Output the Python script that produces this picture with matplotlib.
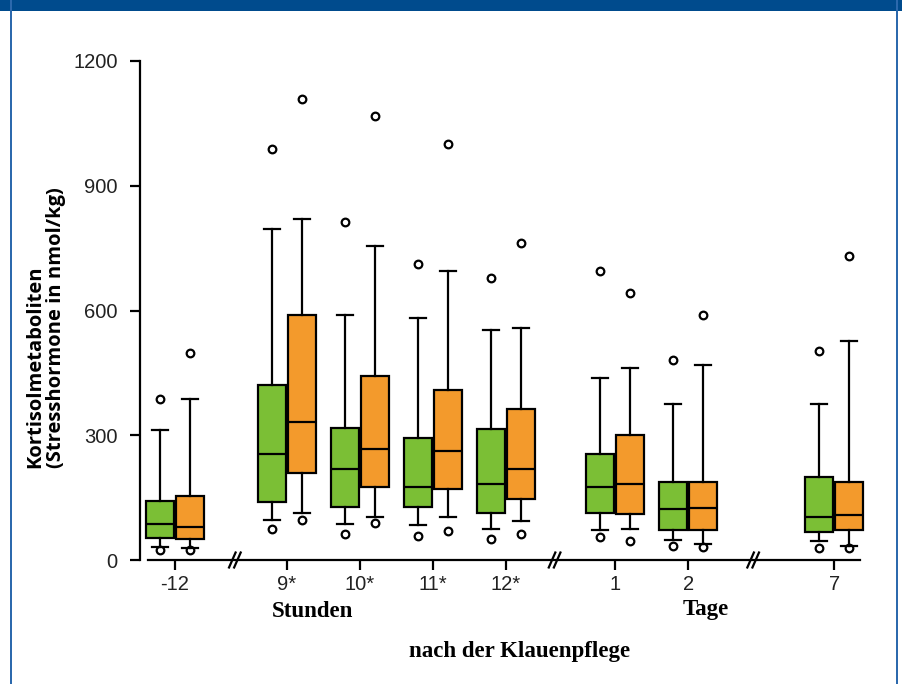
import matplotlib
matplotlib.use("Agg")
import matplotlib.pyplot as plt
from matplotlib.patches import Rectangle

# ---------------- data ----------------
tick_labels = ["-12", "9*", "10*", "11*", "12*", "1", "2", "7"]

green_whislo = [31, 96, 86, 84, 74, 72, 48, 46]
green_q1     = [53, 139, 127, 127, 113, 113, 72, 67]
green_med    = [86, 254, 218, 175, 182, 175, 122, 103]
green_q3     = [142, 420, 317, 293, 314, 254, 187, 199]
green_whishi = [312, 797, 588, 583, 554, 437, 374, 374]
green_fliers = [[386, 24], [989, 74], [814, 62], [713, 58], [679, 50], [694, 55], [480, 34], [502, 29]]

orange_whislo = [29, 113, 104, 103, 94, 74, 38, 34]
orange_q1     = [50, 209, 175, 170, 146, 110, 72, 72]
orange_med    = [79, 331, 266, 262, 218, 182, 125, 108]
orange_q3     = [154, 590, 442, 408, 362, 300, 187, 187]
orange_whishi = [386, 821, 756, 696, 557, 461, 468, 526]
orange_fliers = [[497, 24], [1109, 96], [1068, 89], [1001, 70], [763, 62], [643, 46], [588, 32], [730, 29]]

y_ticks = [0, 300, 600, 900, 1200]

# ---------------- layout ----------------
positions = [0, 1.53, 2.53, 3.53, 4.53, 6.03, 7.03, 9.03]
breaks = [0.82, 5.2, 7.92]
offset = 0.205
box_w = 0.38

GREEN = "#7bbf35"
ORANGE = "#f39a2c"
BLUE = "#004b8d"

fig = plt.figure(figsize=(9.03, 6.84), dpi=100)
fig.patch.set_facecolor("white")

# blue frame
fig.add_artist(Rectangle((0, 1 - 11 / 684), 1, 11 / 684, transform=fig.transFigure,
                         facecolor=BLUE, edgecolor="none"))
fig.add_artist(Rectangle((10 / 903, 0), 2 / 903, 1, transform=fig.transFigure,
                         facecolor="#2c69ad", edgecolor="none"))
fig.add_artist(Rectangle((896 / 903, 0), 2 / 903, 1, transform=fig.transFigure,
                         facecolor="#2c69ad", edgecolor="none"))

ax = fig.add_axes([140 / 903, (684 - 560) / 684, 740 / 903, (560 - 61) / 684])
ax.set_xlim(-35 / 73, 705 / 73)
ax.set_ylim(0, 1200)


def stats(wl, q1, md, q3, wh, fl):
    return [dict(whislo=a, q1=b, med=c, q3=d, whishi=e, fliers=f)
            for a, b, c, d, e, f in zip(wl, q1, md, q3, wh, fl)]


common = dict(widths=box_w, patch_artist=True, showfliers=True,
              whiskerprops=dict(color="black", linewidth=1.6),
              capprops=dict(color="black", linewidth=1.6),
              medianprops=dict(color="black", linewidth=1.6),
              flierprops=dict(marker="o", markersize=5.5, markerfacecolor="none",
                              markeredgecolor="black", markeredgewidth=1.6),
              manage_ticks=False)

gs = stats(green_whislo, green_q1, green_med, green_q3, green_whishi, green_fliers)
os_ = stats(orange_whislo, orange_q1, orange_med, orange_q3, orange_whishi, orange_fliers)

bg = ax.bxp(gs, positions=[p - offset for p in positions], capwidths=0.22,
            boxprops=dict(facecolor=GREEN, edgecolor="black", linewidth=1.6), **common)
bo = ax.bxp(os_, positions=[p + offset for p in positions], capwidths=0.22,
            boxprops=dict(facecolor=ORANGE, edgecolor="black", linewidth=1.6), **common)
for art in bg["fliers"] + bo["fliers"]:
    art.set_clip_on(False)

# axes styling
for s in ["top", "right", "bottom"]:
    ax.spines[s].set_visible(False)
ax.spines["left"].set_linewidth(1.6)
ax.spines["left"].set_bounds(0, 1200)
ax.set_yticks(y_ticks)
ax.set_yticklabels([str(v) for v in y_ticks], fontsize=14.5, family="Liberation Sans",
                   color="#222222")
ax.set_xticks(positions)
ax.set_xticklabels(tick_labels, fontsize=14.5, family="Liberation Sans", color="#222222")
ax.tick_params(axis="both", direction="out", length=7, width=1.6, colors="black")
ax.tick_params(axis="y", pad=9, labelcolor="#222222")
ax.tick_params(axis="x", pad=4, labelcolor="#222222")

# x axis line with breaks
x0, x1 = -0.37, 9.38
ax.plot([x0, x1], [0, 0], color="black", linewidth=1.6, clip_on=False, zorder=3)
for b in breaks:
    for dx in (-0.035, 0.035):
        ax.plot([b + dx - 0.045, b + dx + 0.045], [-18, 18], color="black",
                linewidth=1.6, clip_on=False, zorder=4)

# axis texts
ax.text(2.53 - 0.65, -125, "Stunden", ha="center", va="center", fontsize=16.5,
        fontweight="bold", family="Liberation Serif")
ax.text(7.27, -118, "Tage", ha="center", va="center", fontsize=16.5,
        fontweight="bold", family="Liberation Serif")
ax.text(4.72, -220, "nach der Klauenpflege", ha="center", va="center", fontsize=16.5,
        fontweight="bold", family="Liberation Serif")

fig.text(35 / 903, 1 - 468 / 684, "Kortisolmetaboliten", rotation=90, ha="center",
         va="bottom", fontsize=14.5, fontweight="bold", family="Open Sans")
fig.text(56 / 903, 1 - 468 / 684, "(Stresshormone in nmol/kg)", rotation=90, ha="center",
         va="bottom", fontsize=14.5, fontweight="bold", family="Open Sans")

fig.savefig("out.png", dpi=100)
